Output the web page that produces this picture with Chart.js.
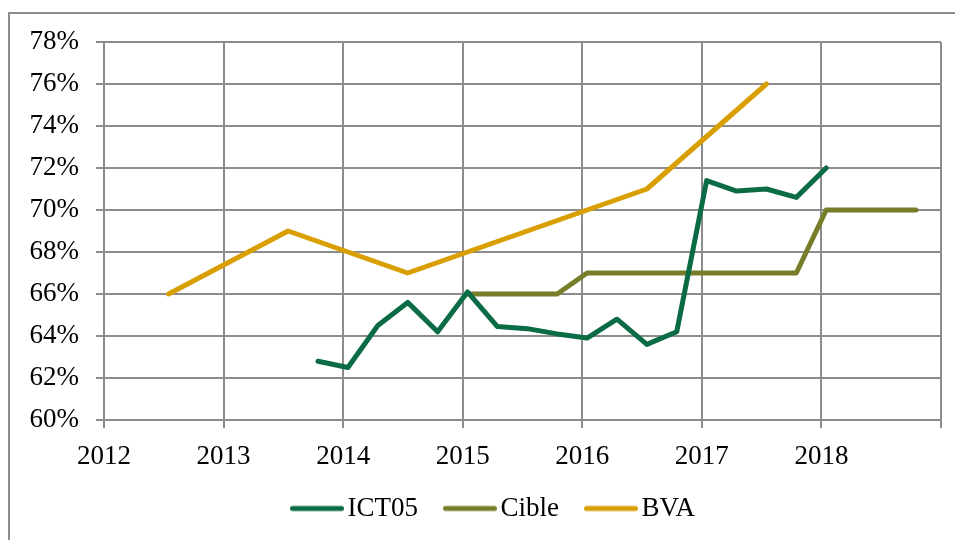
<!DOCTYPE html>
<html>
<head>
<meta charset="utf-8">
<script src="https://cdn.jsdelivr.net/npm/chart.js@4/dist/chart.umd.min.js"></script>
<style>
    html, body { margin: 0; padding: 0; background: #fff; }
    #wrap { width: 955px; height: 540px; }
</style>
</head>
<body>
<div id="wrap"><canvas id="Chart" width="955" height="540"></canvas></div>
<script>
//Quarterly dates as fractional years, values in percent.
const ict05Dates = [2013.79, 2014.04, 2014.29, 2014.54, 2014.79, 2015.04, 2015.29, 2015.54, 2015.79,
    2016.04, 2016.29, 2016.54, 2016.79, 2017.04, 2017.29, 2017.54, 2017.79, 2018.04];
const ict05Values = [62.8, 62.5, 64.5, 65.6, 64.2, 66.1, 64.45, 64.35, 64.1,
    63.9, 64.8, 63.6, 64.2, 71.4, 70.9, 71.0, 70.6, 72.0];

const cibleDates = [2015.04, 2015.29, 2015.54, 2015.79, 2016.04, 2016.29, 2016.54, 2016.79,
    2017.04, 2017.29, 2017.54, 2017.79, 2018.04, 2018.29, 2018.54, 2018.79];
const cibleValues = [66, 66, 66, 66, 67, 67, 67, 67, 67, 67, 67, 67, 70, 70, 70, 70];

const bvaDates = [2012.54, 2013.54, 2014.54, 2015.54, 2016.54, 2017.54];
const bvaValues = [66, 69, 67, 69, 71, 76];

const yearTicks = [2012, 2013, 2014, 2015, 2016, 2017, 2018, 2019];

const gridColor = '#8c8c8c';
const fontFamily = '"Liberation Serif", "DejaVu Serif", serif';

/**
 * Zips dates and values into {x, y} points.
 */
function toPoints(dates, values) {
    return dates.map(function (d, i) {
        return {x: d, y: values[i]};
    });
}

/**
 * Small canvas with a round-capped stroke, used as the legend marker.
 * The image is centred on a 44px box, the stroke sits in its right part
 * so that it runs up close to the label text.
 */
function legendLine(color) {
    let c = document.createElement('canvas');
    c.width = 64;
    c.height = 8;
    let ctx = c.getContext('2d');
    ctx.strokeStyle = color;
    ctx.lineWidth = 5;
    ctx.lineCap = 'round';
    ctx.beginPath();
    ctx.moveTo(12.5, 4);
    ctx.lineTo(61.5, 4);
    ctx.stroke();
    return c;
}

function lineDataset(label, color, dates, values) {
    return {
        label: label,
        data: toPoints(dates, values),
        borderColor: color,
        backgroundColor: color,
        borderWidth: 5,
        borderCapStyle: 'round',
        borderJoinStyle: 'round',
        pointRadius: 0,
        pointStyle: legendLine(color),
        fill: false,
        tension: 0
    };
}

//Draws the left and top edges of the outer chart frame.
const framePlugin = {
    id: 'frame',
    beforeDraw: function (chart) {
        const ctx = chart.ctx;
        ctx.save();
        ctx.strokeStyle = gridColor;
        ctx.lineWidth = 2;
        ctx.beginPath();
        ctx.moveTo(9, 540);
        ctx.lineTo(9, 13);
        ctx.lineTo(955, 13);
        ctx.stroke();
        ctx.restore();
    }
};

//Nudges the legend a little to the right, as in the original.
const legendShiftPlugin = {
    id: 'legendShift',
    afterLayout: function (chart) {
        if (chart.legend) {
            chart.legend.left += 22;
            chart.legend.right += 22;
        }
    }
};

Chart.defaults.font.family = fontFamily;
Chart.defaults.font.size = 27;
Chart.defaults.color = '#000';

window.myLine = new Chart(document.getElementById('Chart').getContext('2d'), {
    type: 'line',
    data: {
        datasets: [
            lineDataset('ICT05', '#0b6b45', ict05Dates, ict05Values),
            lineDataset('Cible', '#787d2a', cibleDates, cibleValues),
            lineDataset('BVA', '#d99e00', bvaDates, bvaValues)
        ]
    },
    plugins: [framePlugin, legendShiftPlugin],
    options: {
        responsive: false,
        animation: false,
        layout: {padding: {left: 0, right: 14, top: 42, bottom: 8}},
        plugins: {
            tooltip: {enabled: false},
            legend: {
                position: 'bottom',
                labels: {
                    usePointStyle: true,
                    pointStyleWidth: 44,
                    boxHeight: 5,
                    padding: 25,
                    font: {size: 27}
                }
            }
        },
        scales: {
            x: {
                type: 'linear',
                min: 2012,
                max: 2019,
                afterBuildTicks: function (scale) {
                    scale.ticks = yearTicks.map(function (v) { return {value: v}; });
                },
                afterFit: function (scale) { scale.height = 50; },
                ticks: {
                    padding: 13,
                    maxRotation: 0,
                    autoSkip: false,
                    callback: function (v) { return v === 2019 ? '' : String(v); }
                },
                grid: {color: gridColor, lineWidth: 2, tickLength: 8},
                border: {color: gridColor, width: 2}
            },
            y: {
                min: 60,
                max: 78,
                afterFit: function (scale) { scale.width = 104; },
                ticks: {
                    stepSize: 2,
                    padding: 17,
                    callback: function (v) { return v + '%'; }
                },
                grid: {color: gridColor, lineWidth: 2, tickLength: 8},
                border: {color: gridColor, width: 2}
            }
        }
    }
});
</script>
</body>
</html>
